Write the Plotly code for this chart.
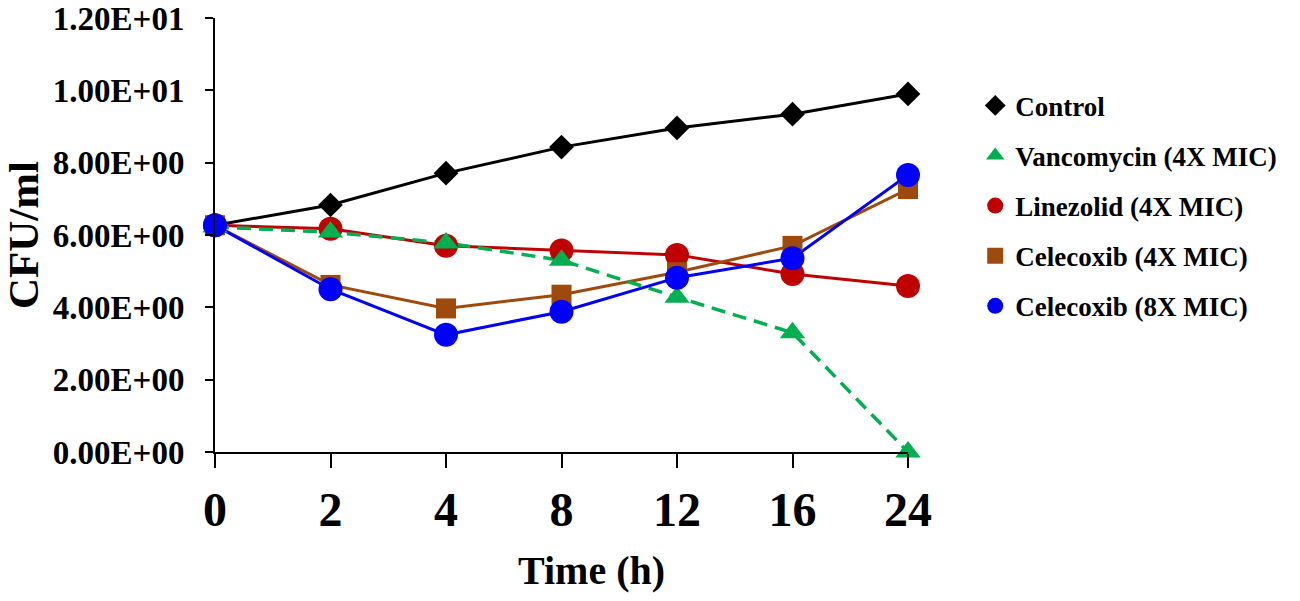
import plotly.graph_objects as go

time_labels = ["0", "2", "4", "8", "12", "16", "24"]

control = [6.27, 6.83, 7.71, 8.43, 8.96, 9.34, 9.90]
vancomycin = [6.22, 6.08, 5.78, 5.30, 4.28, 3.30, 0.0]
linezolid = [6.27, 6.17, 5.70, 5.57, 5.45, 4.92, 4.59]
celecoxib_4x = [6.27, 4.62, 3.97, 4.35, 4.97, 5.70, 7.27]
celecoxib_8x = [6.27, 4.50, 3.24, 3.88, 4.82, 5.36, 7.66]

y_ticks = [0, 2, 4, 6, 8, 10, 12]
y_tick_labels = ["0.00E+00", "2.00E+00", "4.00E+00", "6.00E+00",
                 "8.00E+00", "1.00E+01", "1.20E+01"]

FONT = "Liberation Serif"

# name, values, color, symbol, marker size, dash, legend rank
series = [
    ("Control", control, "#000000", "diamond", 19, "solid", 1),
    ("Linezolid (4X MIC)", linezolid, "#C00000", "circle", 24, "solid", 3),
    ("Celecoxib (4X MIC)", celecoxib_4x, "#9E4A0C", "square", 20, "solid", 4),
    ("Vancomycin (4X MIC)", vancomycin, "#00B050", "triangle-up", 22, "14px,8px", 2),
    ("Celecoxib (8X MIC)", celecoxib_8x, "#0000FF", "circle", 24, "solid", 5),
]

fig = go.Figure()

# lines first, without legend entries (the legend only shows markers)
for name, vals, color, symbol, size, dash, rank in series:
    fig.add_trace(go.Scatter(
        x=time_labels, y=vals, mode="lines",
        line=dict(color=color, width=3.5 if dash != "solid" else 3, dash=dash),
        showlegend=False, cliponaxis=False, hoverinfo="skip",
    ))

for name, vals, color, symbol, size, dash, rank in series:
    fig.add_trace(go.Scatter(
        x=time_labels, y=vals, mode="markers", name=name,
        marker=dict(symbol=symbol, size=size, color=color),
        legendrank=rank, legendgroup=name, cliponaxis=False,
    ))

fig.update_layout(
    width=1300, height=601,
    paper_bgcolor="white", plot_bgcolor="white",
    font=dict(family=FONT, color="black", weight="bold"),
    margin=dict(l=215, r=392, t=18, b=149),
    legend=dict(
        x=1.097, y=0.854, xanchor="left", yanchor="top",
        font=dict(size=27, family=FONT, weight="bold"),
        tracegroupgap=12, itemsizing="trace",
    ),
    annotations=[dict(
        text="Time (h)", xref="paper", yref="paper",
        x=0.5426, y=-0.274, xanchor="center", yanchor="middle",
        showarrow=False, font=dict(size=40, family=FONT, weight="bold"),
    )],
)

fig.update_xaxes(
    type="category", range=[0, 6],
    showline=True, linecolor="black", linewidth=2,
    ticks="outside", ticklen=14, tickwidth=2, tickcolor="black",
    showgrid=False, zeroline=False,
    tickfont=dict(size=48, family=FONT, weight="bold"),
    automargin=False,
)
fig.update_yaxes(
    range=[0, 12], tickvals=y_ticks, ticktext=y_tick_labels,
    showline=True, linecolor="black", linewidth=2,
    ticks="outside", ticklen=8, tickwidth=2, tickcolor="black",
    ticklabelstandoff=14, ticklabeloverflow="allow",
    showgrid=False, zeroline=False,
    tickfont=dict(size=33, family=FONT, weight="bold"),
    title=dict(text="CFU/ml", font=dict(size=43, family=FONT, weight="bold"), standoff=10),
    automargin=False,
)

# drop the browser's default 8px body margin so the figure sits at the page corner
fig.write_html("out.html", config={"displayModeBar": False},
               post_script="document.body.style.margin = '0';")
